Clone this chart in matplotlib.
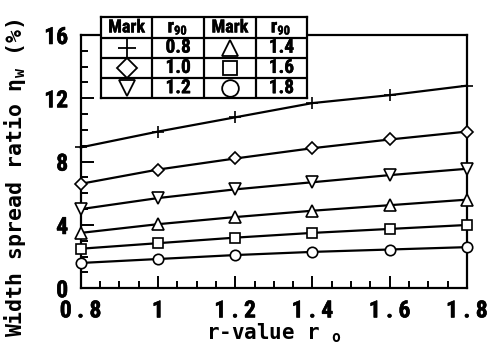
import matplotlib
matplotlib.use("Agg")
import matplotlib.pyplot as plt
import matplotlib.patheffects as pe
from matplotlib.ticker import MultipleLocator, FixedLocator

# r-value (rolling direction) and the matching r90 of each curve
r0 = [0.8, 1.0, 1.2, 1.4, 1.6, 1.8]
r90_values = [0.8, 1.0, 1.2, 1.4, 1.6, 1.8]
r90_labels = ["0.8", "1.0", "1.2", "1.4", "1.6", "1.8"]
markers = ["+", "D", "v", "^", "s", "o"]

# width spread ratio eta_w (%) per r90
eta_08 = [8.9, 9.9, 10.8, 11.7, 12.2, 12.8]
eta_10 = [6.6, 7.5, 8.2, 8.85, 9.4, 9.9]
eta_12 = [5.0, 5.7, 6.25, 6.7, 7.15, 7.55]
eta_14 = [3.5, 4.05, 4.5, 4.9, 5.25, 5.6]
eta_16 = [2.5, 2.85, 3.2, 3.5, 3.75, 4.0]
eta_18 = [1.6, 1.85, 2.1, 2.3, 2.45, 2.6]
series = [eta_08, eta_10, eta_12, eta_14, eta_16, eta_18]

xticks = [0.8, 1.0, 1.2, 1.4, 1.6, 1.8]
xtick_labels = ["0 . 8", "1", "1 . 2", "1 . 4", "1 . 6", "1 . 8"]
yticks = [0, 4, 8, 12, 16]

W, H = 487, 358
fig = plt.figure(figsize=(W / 100, H / 100), dpi=100)
ax = fig.add_axes([80.7 / W, 1 - 288.3 / H, (467 - 80.7) / W, (288.3 - 35) / H])

narrow = ["Roboto Condensed", "Archivo Narrow", "DejaVu Sans"]
mono = ["DejaVu Sans Mono", "DejaVu Sans"]
thick = [pe.withStroke(linewidth=0.4, foreground="black")]

msize = {"+": 9, "D": 6.5, "v": 8, "^": 8, "s": 7.5, "o": 7.5}
for m, y in zip(markers, series):
    ax.plot(r0, y, color="black", lw=1.6, marker=m, ms=msize[m],
            mfc="white", mec="black", mew=1.2, clip_on=False, zorder=3)

ax.set_xlim(0.8, 1.8)
ax.set_ylim(0, 16)
ax.xaxis.set_major_locator(FixedLocator(xticks))
ax.xaxis.set_minor_locator(MultipleLocator(0.05))
ax.yaxis.set_major_locator(FixedLocator(yticks))
ax.yaxis.set_minor_locator(MultipleLocator(1))
ax.set_xticklabels(xtick_labels)
ax.set_yticklabels([str(v) for v in yticks])
ax.tick_params(which="both", direction="in", top=False, right=False, width=1.4)
ax.tick_params(which="major", length=9)
ax.tick_params(axis="x", which="major", pad=8)
ax.tick_params(axis="y", which="major", pad=9)
ax.tick_params(which="minor", length=5)
for lab in ax.get_xticklabels() + ax.get_yticklabels():
    lab.set_family(narrow)
    lab.set_fontweight("bold")
    lab.set_fontsize(17)
    lab.set_path_effects(thick)
for s in ax.spines.values():
    s.set_linewidth(1.6)

# axis titles
fig.text(0.5 * (80.7 + 467) / W, 1 - 333 / H, "r-value r $_\\mathregular{o}$",
         ha="center", va="center", family=mono, fontsize=15, fontweight="bold")
fig.text(15 / W, 1 - 178 / H, "Width spread ratio η$_\\mathregular{w}$ (%)",
         ha="center", va="center", rotation=90, family=mono, fontsize=15.5,
         fontweight="bold")

# legend table
tx0, tx1, ty0, ty1 = 100.7, 307.3, 17.3, 98.3
tab = fig.add_axes([tx0 / W, 1 - ty1 / H, (tx1 - tx0) / W, (ty1 - ty0) / H])
tab.set_xlim(0, 4)
tab.set_ylim(0, 4)
tab.set_facecolor("white")
tab.set_zorder(5)
for s in tab.spines.values():
    s.set_linewidth(1.6)
tab.set_xticks([])
tab.set_yticks([])
for k in range(1, 4):
    tab.axvline(k, color="black", lw=1.6)
    tab.axhline(k, color="black", lw=1.6)

tkw = dict(family=narrow, fontweight="bold",
           path_effects=[pe.withStroke(linewidth=0.3, foreground="black")])
for col in (0, 2):
    tab.text(col + 0.5, 3.5, "Mark", ha="center", va="center", fontsize=13, **tkw)
    tab.text(col + 1.42, 3.5, "r", ha="right", va="center", fontsize=14, **tkw)
    tab.text(col + 1.42, 3.32, "90", ha="left", va="center", fontsize=9, **tkw)

tsize = {"+": 13, "D": 10, "v": 12, "^": 12, "s": 10.5, "o": 12}
for i, (m, lab) in enumerate(zip(markers, r90_labels)):
    col = 0 if i < 3 else 2
    row = 2.5 - (i % 3)
    tab.plot([col + 0.5], [row], marker=m, ms=tsize[m], mfc="white",
             mec="black", mew=1.3, color="black", clip_on=False)
    tab.text(col + 1.5, row, lab, ha="center", va="center", fontsize=14, **tkw)

fig.savefig("out.png", dpi=100)
